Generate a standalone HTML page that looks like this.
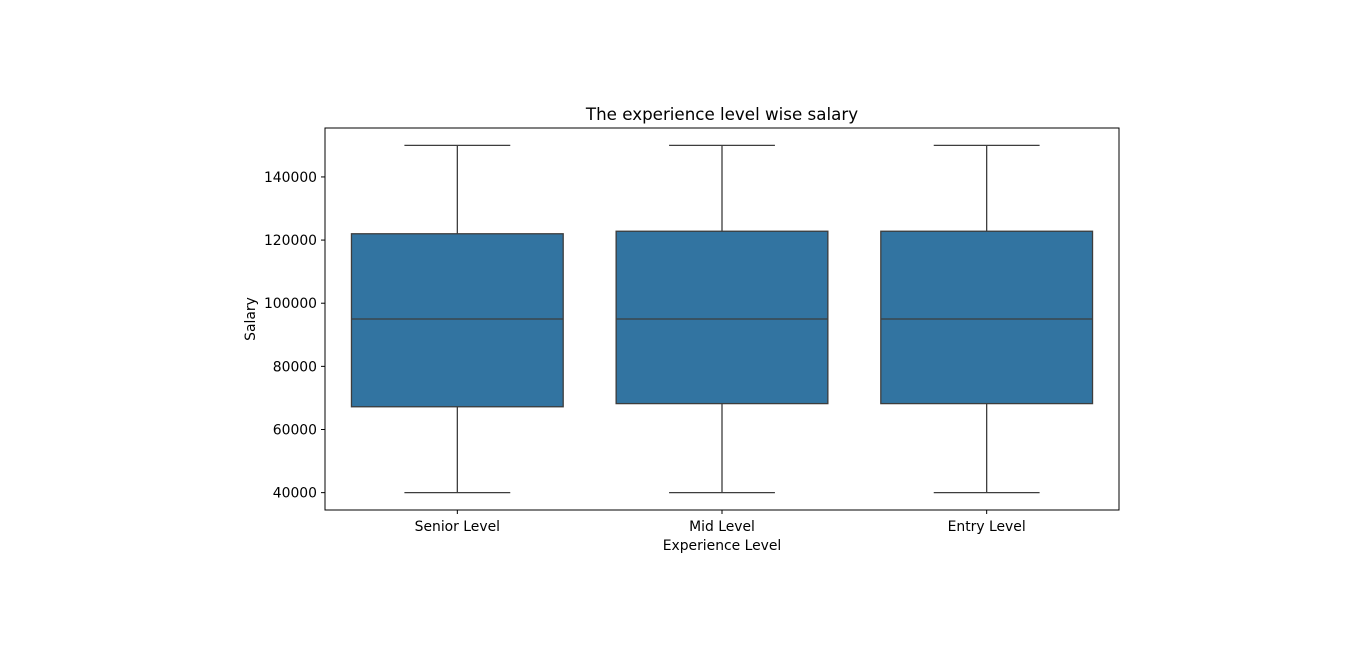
<!DOCTYPE html>
<html><head><meta charset="utf-8"><style>
body{margin:0;background:#fff;}
svg text{font-family:"DejaVu Sans","Liberation Sans",sans-serif;fill:#000;}
</style></head><body>
<svg id="chart" width="1366" height="655" xmlns="http://www.w3.org/2000/svg">
<rect width="1366" height="655" fill="#fff"/>
<text x="722" y="120" text-anchor="middle" font-size="16.7">The experience level wise salary</text>
<g id="plot"></g>
<rect x="325" y="128" width="794" height="382" fill="none" stroke="#000" stroke-width="1"/>
<text x="722" y="550" text-anchor="middle" font-size="13.9">Experience Level</text>
<text transform="translate(255,319) rotate(-90)" text-anchor="middle" font-size="13.9">Salary</text>
</svg>
<script>
const categories=["Senior Level","Mid Level","Entry Level"];
const whiskerLow=[40000,40000,40000];
const q1=[67200,68200,68200];
const medians=[95000,95000,95000];
const q3=[122000,122800,122800];
const whiskerHigh=[150000,150000,150000];
const yTicks=[40000,60000,80000,100000,120000,140000];
const yMin=34500,yMax=155500;
const L=325,R=1119,T=128,B=510;
const ns="http://www.w3.org/2000/svg";
const g=document.getElementById('plot');
function y(v){return B-(v-yMin)/(yMax-yMin)*(B-T);}
const step=(R-L)/categories.length;
function x(i){return L+step*(i+0.5);}
function mk(tag,attrs){const e=document.createElementNS(ns,tag);for(const k in attrs)e.setAttribute(k,attrs[k]);g.appendChild(e);return e;}
yTicks.forEach(v=>{
  const t=mk('line',{x1:L-4,x2:L,y1:y(v),y2:y(v),stroke:'#000'});
  
  
  const l=mk('text',{x:L-8,y:y(v)+5,'text-anchor':'end','font-size':'13.9'});
  l.textContent=v;
  
  
});
const bw=step*0.8;
categories.forEach((c,i)=>{
  const cx=x(i);
  const s='#3d3d3d';
  const w1=mk('line',{x1:cx,x2:cx,y1:y(whiskerHigh[i]),y2:y(q3[i]),stroke:s,'stroke-width':1.3});
  
  
  const w2=mk('line',{x1:cx,x2:cx,y1:y(q1[i]),y2:y(whiskerLow[i]),stroke:s,'stroke-width':1.3});
  
  
  const c1=mk('line',{x1:cx-bw/4,x2:cx+bw/4,y1:y(whiskerHigh[i]),y2:y(whiskerHigh[i]),stroke:s,'stroke-width':1.3});
  
  
  const c2=mk('line',{x1:cx-bw/4,x2:cx+bw/4,y1:y(whiskerLow[i]),y2:y(whiskerLow[i]),stroke:s,'stroke-width':1.3});
  
  
  const b=mk('rect',{x:cx-bw/2,y:y(q3[i]),width:bw,height:y(q1[i])-y(q3[i]),fill:'#3274a1',stroke:s,'stroke-width':1.3});
  
  
  const m=mk('line',{x1:cx-bw/2,x2:cx+bw/2,y1:y(medians[i]),y2:y(medians[i]),stroke:s,'stroke-width':1.3});
  
  
  const t=mk('line',{x1:cx,x2:cx,y1:B,y2:B+4,stroke:'#000'});
  
  
  const l=mk('text',{x:cx,y:B+21,'text-anchor':'middle','font-size':'13.9'});
  l.textContent=c;
  
  
});
</script>
</body></html>
